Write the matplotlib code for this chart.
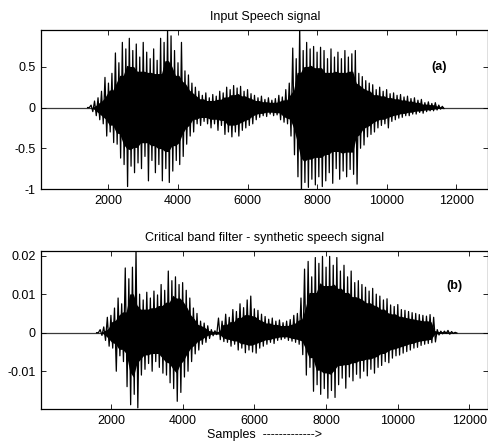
import numpy as np
import matplotlib
matplotlib.use("Agg")
import matplotlib.pyplot as plt

plt.rcParams['font.family'] = ['Liberation Sans', 'DejaVu Sans']
plt.rcParams['axes.unicode_minus'] = False

# ---------------- data (peak envelopes, 100-sample bins) ----
# (a) Input speech signal
pos_a = np.arange(1400, 11700, 100)
hi_a = [0.0, 0.03, 0.08, 0.12, 0.2, 0.37, 0.3, 0.42, 0.67, 0.55,
        0.8, 0.72, 0.85, 0.7, 0.78, 0.62, 0.8, 0.68, 0.6, 0.72,
        0.58, 0.85, 0.8, 0.95, 0.88, 0.7, 0.55, 0.8, 0.45, 0.4,
        0.3, 0.25, 0.2, 0.15, 0.18, 0.12, 0.16, 0.14, 0.2, 0.18,
        0.25, 0.22, 0.27, 0.24, 0.26, 0.2, 0.22, 0.17, 0.15, 0.12,
        0.14, 0.1, 0.12, 0.09, 0.11, 0.15, 0.13, 0.22, 0.3, 0.73,
        0.6, 1.0, 0.7, 0.8, 0.72, 0.75, 0.68, 0.74, 0.7, 0.6,
        0.72, 0.62, 0.68, 0.6, 0.7, 0.62, 0.66, 0.7, 0.42, 0.38,
        0.33, 0.3, 0.28, 0.22, 0.25, 0.2, 0.22, 0.17, 0.18, 0.15,
        0.16, 0.13, 0.14, 0.11, 0.12, 0.09, 0.1, 0.06, 0.07, 0.05,
        0.06, 0.03, 0.015]
lo_a = [0.0, -0.05, -0.1, -0.15, -0.2, -0.35, -0.3, -0.43, -0.45, -0.62,
        -0.7, -0.97, -0.72, -0.8, -0.68, -0.75, -0.6, -0.9, -0.65, -0.8,
        -0.7, -0.9, -0.75, -0.92, -0.78, -0.65, -0.7, -0.6, -0.45, -0.35,
        -0.3, -0.2, -0.22, -0.17, -0.2, -0.25, -0.2, -0.28, -0.22, -0.33,
        -0.3, -0.36, -0.3, -0.35, -0.28, -0.25, -0.22, -0.2, -0.15, -0.12,
        -0.1, -0.11, -0.08, -0.1, -0.09, -0.15, -0.18, -0.2, -0.35, -0.58,
        -0.85, -1.05, -0.92, -0.98, -0.88, -0.95, -0.85, -0.97, -0.9, -0.8,
        -0.93, -0.75, -0.88, -0.78, -0.85, -0.76, -0.82, -0.94, -0.5, -0.46,
        -0.36, -0.33, -0.3, -0.25, -0.22, -0.2, -0.25, -0.17, -0.15, -0.13,
        -0.12, -0.1, -0.1, -0.08, -0.08, -0.06, -0.07, -0.05, -0.04, -0.04,
        -0.03, -0.02, -0.012]

# (b) Critical band filter - synthetic speech signal
pos_b = np.arange(1600, 11700, 100)
hi_b = [0.0, 0.0008, 0.0015, 0.004, 0.0045, 0.0064, 0.009, 0.0075, 0.0168, 0.014,
        0.017, 0.0215, 0.01, 0.0085, 0.0105, 0.009, 0.0108, 0.0098, 0.0125, 0.011,
        0.016, 0.0135, 0.0145, 0.0125, 0.013, 0.011, 0.009, 0.0064, 0.005, 0.003,
        0.0025, 0.0018, 0.0008, 0.0005, 0.0038, 0.003, 0.0048, 0.004, 0.006, 0.0055,
        0.0075, 0.0065, 0.0085, 0.0095, 0.0062, 0.0058, 0.0048, 0.0042, 0.0035, 0.0038,
        0.003, 0.0033, 0.0026, 0.003, 0.0034, 0.0045, 0.005, 0.009, 0.0165, 0.0185,
        0.0145, 0.0195, 0.018, 0.0198, 0.017, 0.0198, 0.0175, 0.0195, 0.016, 0.0175,
        0.0145, 0.016, 0.013, 0.0135, 0.0125, 0.0118, 0.0108, 0.0115, 0.01, 0.0095,
        0.0085, 0.0088, 0.0072, 0.0068, 0.0073, 0.006, 0.0058, 0.0055, 0.0052, 0.005,
        0.0047, 0.0045, 0.0043, 0.0047, 0.004, 0.0008, 0.0004, 0.0004, 0.0006, 0.0003,
        0.0001]
lo_b = [0.0, -0.0007, -0.002, -0.0035, -0.004, -0.01, -0.006, -0.0075, -0.014, -0.0187,
        -0.016, -0.0195, -0.011, -0.0095, -0.008, -0.01, -0.0075, -0.009, -0.0105, -0.011,
        -0.013, -0.0145, -0.0178, -0.0155, -0.0115, -0.01, -0.0075, -0.0055, -0.0045, -0.003,
        -0.0025, -0.0015, -0.0008, -0.0005, -0.0018, -0.0023, -0.0025, -0.0035, -0.003, -0.0045,
        -0.004, -0.0052, -0.0045, -0.005, -0.0053, -0.004, -0.0035, -0.003, -0.0025, -0.0028,
        -0.002, -0.0018, -0.0015, -0.002, -0.0022, -0.0025, -0.003, -0.0057, -0.011, -0.009,
        -0.0152, -0.0135, -0.016, -0.0145, -0.017, -0.015, -0.0168, -0.0135, -0.0118, -0.0144,
        -0.0115, -0.0125, -0.0108, -0.0118, -0.01, -0.0112, -0.0095, -0.0105, -0.009, -0.0085,
        -0.0075, -0.0078, -0.0066, -0.006, -0.0058, -0.0053, -0.0049, -0.0045, -0.004, -0.0038,
        -0.0033, -0.003, -0.0028, -0.0026, -0.0024, -0.0006, -0.0003, -0.0002, -0.0004, -0.0002,
        -0.0001]

xlim_a = (60, 12930)
xlim_b = (50, 12530)
ylim_a = (-1.0, 0.952)
ylim_b = (-0.0198, 0.0212)
xticks = [2000, 4000, 6000, 8000, 10000, 12000]
yticks_a = [-1, -0.5, 0, 0.5]
yticklabels_a = ['-1', '-0.5', '0', '0.5']
yticks_b = [-0.01, 0, 0.01, 0.02]
yticklabels_b = ['-0.01', '0', '0.01', '0.02']
title_a = "Input Speech signal"
title_b = "Critical band filter - synthetic speech signal"
xlabel_b = "Samples  ------------->"

# ---------------- figure ----------------
fig = plt.figure(figsize=(4.89, 4.46), dpi=100)
W, H = 489, 446
ax_a = fig.add_axes([41 / W, 1 - 189 / H, 447.5 / W, 159 / H])
ax_b = fig.add_axes([41 / W, 1 - 409 / H, 447.5 / W, 158 / H])


def draw(ax, pos, hi, lo, xlim):
    pos = np.asarray(pos, float)
    hi = np.asarray(hi, float)
    lo = np.asarray(lo, float)
    # dense core: smallest excursion among neighbouring bins
    hp = np.pad(hi, 1, mode='edge')
    lp = np.pad(lo, 1, mode='edge')
    core_hi = np.minimum(np.minimum(hp[:-2], hp[1:-1]), hp[2:])
    core_lo = np.maximum(np.maximum(lp[:-2], lp[1:-1]), lp[2:])
    ax.plot(list(xlim), [0, 0], color='#3a3a3a', lw=0.9, zorder=1)
    ax.fill_between(pos + 25, core_lo * 0.72, core_hi * 0.72, color='black',
                    lw=0, zorder=2)
    xs = np.column_stack([pos, pos + 50]).ravel()
    ys = np.column_stack([hi, lo]).ravel()
    ax.plot(xs, ys, color='black', lw=0.9, zorder=3)
    ax.set_xlim(*xlim)


draw(ax_a, pos_a, hi_a, lo_a, xlim_a)
draw(ax_b, pos_b, hi_b, lo_b, xlim_b)

ax_a.set_ylim(*ylim_a)
ax_b.set_ylim(*ylim_b)
ax_a.set_yticks(yticks_a, yticklabels_a)
ax_b.set_yticks(yticks_b, yticklabels_b)
for ax in (ax_a, ax_b):
    ax.set_xticks(xticks, [str(t) for t in xticks])
    ax.tick_params(direction='in', length=3.5, width=0.6, top=True, right=True,
                   labelsize=9, pad=4, colors='black')
    for sp in ax.spines.values():
        sp.set_linewidth(0.9)

ax_a.set_title(title_a, fontsize=9, pad=7)
ax_b.set_title(title_b, fontsize=9, pad=7)
ax_b.set_xlabel(xlabel_b, fontsize=9, labelpad=2)

ax_a.text(11520, 0.5, "(a)", fontsize=9, fontweight='bold', ha='center', va='center')
ax_b.text(11585, 0.0121, "(b)", fontsize=9, fontweight='bold', ha='center', va='center')

fig.savefig("out.png", dpi=100)
